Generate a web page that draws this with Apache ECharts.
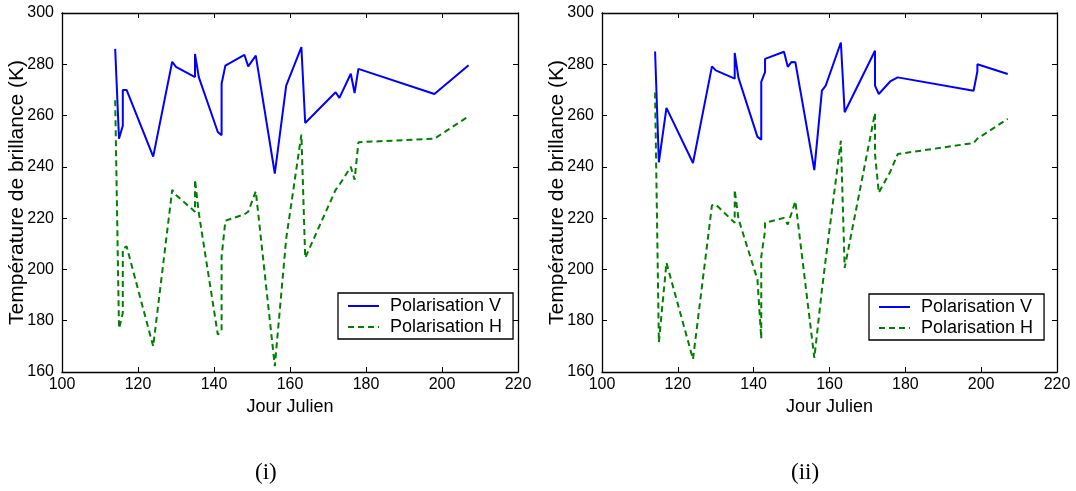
<!DOCTYPE html>
<html><head><meta charset="utf-8">
<script src="https://cdn.jsdelivr.net/npm/echarts@6/dist/echarts.min.js"></script>
<style>html,body{margin:0;padding:0;background:#fff}#c{width:1076px;height:491px}</style>
</head><body><div id="c"></div>
<script>
// Panel (i)
var daysL = [114,115,116,116,117,124,129,130,135,135,136,141,142,142,143,148,149,151,156,159,163,164,172,173,176,177,178,198,207];
var vL    = [286,251,256,270,270,244,281,279,275,284,275,253.6,252.3,272.4,279.5,283.7,279.2,283.4,237.4,271.7,286.7,257.1,269.1,266.9,276.3,268.8,278.2,268.4,279.6];
var hL    = [266,177,183,208,209,170,231,229,222.5,235,222,174.6,176,205,219,221.5,222.5,230.5,162.3,212,252.6,204.5,231,233,240,235,249.6,251,259.7];
// Panel (ii)
var daysR = [114,115,117,124,129,130,135,135,136,141,142,142,143,143,148,149,150,151,156,158,159,163,164,172,172,173,176,178,198,199,199,207];
var vR    = [285,241.8,263,241.5,279.2,277.6,274.4,284.4,274.7,251.7,250.6,273.1,276.9,282.1,284.9,279,280.9,280.8,238.7,269.7,271.7,288.5,261.3,285.3,271.7,268.4,273.3,274.9,269.7,277.2,280,276.2];
var hR    = [269,171.6,202.6,165,225,225.3,218.2,231,219.7,196,173,205,215,218.2,220.1,217.5,222,226.6,165.5,192,204,250.2,200.6,261,245,229.9,238,245,249.3,251,251.5,258.7];

var seriesNames = ['Polarisation V','Polarisation H'];
var xTitle = 'Jour Julien';
var yTitle = 'Température de brillance (K)';
var panelLabels = ['(i)','(ii)'];

function pairs(xs, ys){ return xs.map(function(x,i){ return [x, ys[i]]; }); }

var FONT = 'Liberation Sans, Arial, Helvetica, sans-serif';
var black = '#000';

function xAx(grid, pos, show){
  return {type:'value', gridIndex:grid, position:pos, min:100, max:220, interval:20,
    name: show ? xTitle : '', nameLocation:'middle', nameGap:25,
    nameTextStyle:{fontFamily:FONT, fontSize:18, color:black},
    axisLine:{show:true, onZero:false, lineStyle:{color:black, width:1.3}},
    axisTick:{show:true, inside:true, length:5, lineStyle:{color:black}},
    axisLabel:{show:show, margin:5, fontFamily:FONT, fontSize:16, color:black},
    splitLine:{show:false}};
}
function yAx(grid, pos, show){
  return {type:'value', gridIndex:grid, position:pos, min:160, max:300, interval:20,
    name: show ? yTitle : '', nameLocation:'middle', nameGap:34, nameRotate:90,
    nameMoveOverlap:false,
    nameTextStyle:{fontFamily:FONT, fontSize:21, color:black},
    axisLine:{show:true, onZero:false, lineStyle:{color:black, width:1.3}},
    axisTick:{show:true, inside:true, length:5, lineStyle:{color:black}},
    axisLabel:{show:show, margin:8, fontFamily:FONT, fontSize:16, color:black},
    splitLine:{show:false}};
}
function legend(left, top){
  return {orient:'vertical', left:left, top:top, data:seriesNames,
    backgroundColor:'#fff', borderColor:black, borderWidth:1.3, borderRadius:0,
    padding:[4,11,3,9], itemWidth:31, itemHeight:14, itemGap:3,
    itemStyle:{opacity:0, borderWidth:0},
    lineStyle:{inactiveWidth:2},
    textStyle:{fontFamily:FONT, fontSize:18, color:black, padding:[0,0,0,6]},
    selectedMode:false};
}
function line(name, data, xi, yi, color, dashed){
  return {name:name, type:'line', xAxisIndex:xi, yAxisIndex:yi, data:data,
    symbol:'none', showSymbol:false, z:3,
    lineStyle:{color:color, width:2, type: dashed ? [6,4] : 'solid'},
    itemStyle:{color:color}};
}

var chart = echarts.init(document.getElementById('c'), null, {renderer:'canvas'});
chart.setOption({
  animation:false,
  backgroundColor:'#fff',
  grid:[
    {left:62, top:13, width:456, height:359},
    {left:602, top:13, width:455, height:359}
  ],
  xAxis:[xAx(0,'bottom',true), xAx(0,'top',false), xAx(1,'bottom',true), xAx(1,'top',false)],
  yAxis:[yAx(0,'left',true), yAx(0,'right',false), yAx(1,'left',true), yAx(1,'right',false)],
  legend:[legend(338,293), legend(869,294)],
  series:[
    line(seriesNames[0], pairs(daysL, vL), 0, 0, '#0000ff', false),
    line(seriesNames[1], pairs(daysL, hL), 0, 0, '#008000', true),
    line(seriesNames[0], pairs(daysR, vR), 2, 2, '#0000ff', false),
    line(seriesNames[1], pairs(daysR, hR), 2, 2, '#008000', true)
  ],
  graphic:[
    {type:'text', left:266-11, top:461, style:{text:panelLabels[0], font:'23px "Liberation Serif", "DejaVu Serif", serif', fill:black}},
    {type:'text', left:806-15, top:461, style:{text:panelLabels[1], font:'23px "Liberation Serif", "DejaVu Serif", serif', fill:black}}
  ]
});
</script></body></html>
